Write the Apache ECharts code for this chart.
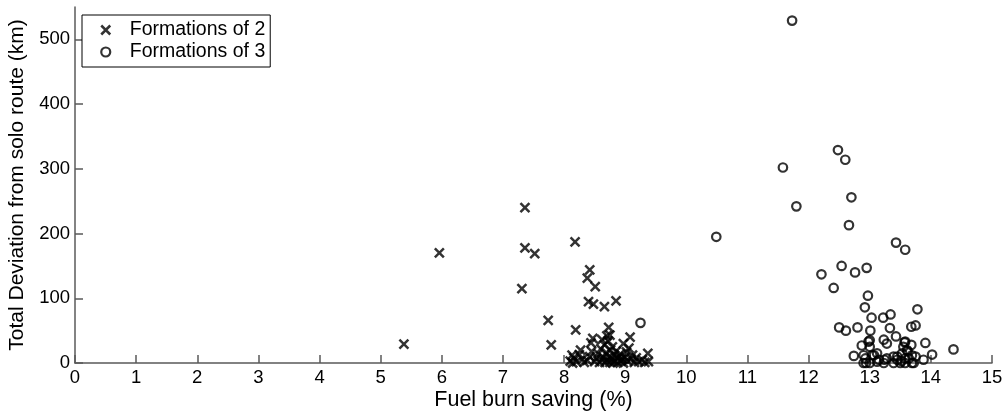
<!DOCTYPE html>
<html>
<head>
<meta charset="utf-8">
<script src="https://cdn.jsdelivr.net/npm/echarts@6/dist/echarts.min.js"></script>
<style>
html,body{margin:0;padding:0;background:#fff;}
#c{width:1003px;height:412px;}
</style>
</head>
<body>
<div id="c"></div>
<script>
var seriesNames = ['Formations of 2', 'Formations of 3'];
var xTicks = [0,1,2,3,4,5,6,7,8,9,10,11,12,13,14,15];
var yTicks = [0,100,200,300,400,500];

var form2Fuel = [5.38,5.96,7.36,7.36,7.52,7.31,7.74,7.79,8.18,8.19,8.42,8.38,8.51,8.40,8.48,8.66,8.85,8.73,8.75,9.08,8.47,9.06,8.27,9.37,8.13,8.14,9.38,8.44,8.97,
  8.10,8.16,8.20,8.25,8.30,8.33,8.38,8.42,8.45,8.50,8.53,8.56,8.58,8.60,8.62,8.64,8.66,8.67,8.69,8.70,8.72,8.73,8.75,8.76,8.78,8.79,8.80,8.82,8.83,8.85,8.87,8.88,8.90,8.92,8.93,8.95,8.97,9.00,9.02,9.04,9.10,9.12,9.15,9.18,9.22,9.28,9.32,8.70,8.62];
var form2Dev = [29,170,240,178,169,115,66,28,187,51,144,131,118,95,91,87,96,55,43,40,38,23,20,15,12,0,2,31,30,
  3,8,2,13,6,1,4,10,18,2,7,14,1,22,5,9,28,1,16,4,34,10,1,20,6,25,0,12,3,18,7,1,10,14,3,6,0,9,17,3,6,12,1,8,2,5,1,42,36];

var form3Fuel = [9.25,10.49,11.73,12.48,12.60,11.58,12.70,11.80,12.66,13.43,13.58,12.54,12.95,12.76,12.21,12.41,12.97,12.92,13.78,13.03,13.22,13.34,12.50,12.61,12.80,13.01,13.33,13.68,13.75,13.43,13.23,13.28,13.00,12.87,13.00,13.57,13.68,13.91,14.37,14.02,13.88,12.74,12.90,12.94,13.12,13.12,13.24,13.45,13.53,13.61,13.69,13.69,13.50,13.39,13.58,13.04,12.93,13.07,13.15,13.28,13.45,13.64,13.75,12.90,13.00,13.23,13.39,13.58,13.72,12.98,13.58,13.55,13.62,13.52];
var form3Dev = [62,195,529,329,314,302,256,242,213,186,175,150,147,140,137,116,104,86,83,70,70,75,55,50,55,50,54,56,58,41,36,30,35,27,25,32,28,31,21,13,5,11,12,0,15,2,5,5,15,20,12,0,0,10,7,12,7,12,5,7,10,7,10,0,0,0,0,0,0,33,33,25,18,3];

function zip(a, b) { return a.map(function (v, i) { return [v, b[i]]; }); }

var crossPath = 'path://M0,0L10,10M0,10L10,0';
var font = '"Liberation Sans", Arial, Helvetica, sans-serif';
var axisCol = '#5a5a5a';

var chart = echarts.init(document.getElementById('c'), null, {renderer: 'canvas'});
chart.setOption({
  animation: false,
  backgroundColor: '#fff',
  grid: {left: 75, right: 11, top: 7, bottom: 49, containLabel: false, outerBoundsMode: 'none'},
  legend: {
    left: 82, top: 15,
    orient: 'vertical',
    padding: [5, 5, 5, 18],
    itemGap: 2,
    itemWidth: 38, itemHeight: 9,
    borderColor: '#000', borderWidth: 1,
    backgroundColor: '#fff',
    textStyle: {fontFamily: font, fontSize: 19.5, color: '#000'},
    data: [
      {name: seriesNames[0], icon: crossPath, itemStyle: {color: 'rgba(0,0,0,0)', borderColor: '#000', borderWidth: 2.5}},
      {name: seriesNames[1], icon: 'circle', itemStyle: {color: 'rgba(0,0,0,0)', borderColor: '#000', borderWidth: 2.2}}
    ]
  },
  xAxis: {
    type: 'value', min: 0, max: 15, interval: 1,
    name: 'Fuel burn saving (%)', nameLocation: 'middle', nameGap: 26, nameMoveOverlap: false,
    nameTextStyle: {fontFamily: font, fontSize: 21.5, color: '#000', verticalAlign: 'top'},
    axisLine: {show: true, lineStyle: {color: axisCol, width: 1.5}},
    axisTick: {show: true, inside: true, length: 8, lineStyle: {color: axisCol, width: 1.5}, customValues: xTicks},
    axisLabel: {fontFamily: font, fontSize: 18.5, color: '#000', margin: 5, customValues: xTicks},
    splitLine: {show: false}
  },
  yAxis: {
    type: 'value', min: 0, max: 550,
    name: 'Total Deviation from solo route (km)', nameLocation: 'middle', nameGap: 47, nameMoveOverlap: false,
    nameTextStyle: {fontFamily: font, fontSize: 21, color: '#000'},
    axisLine: {show: true, lineStyle: {color: axisCol, width: 1.5}},
    axisTick: {show: true, inside: true, length: 8, lineStyle: {color: axisCol, width: 1.5}, customValues: yTicks},
    axisLabel: {fontFamily: font, fontSize: 18.5, color: '#000', margin: 5, customValues: yTicks},
    splitLine: {show: false}
  },
  series: [
    {
      name: seriesNames[0], type: 'scatter',
      symbol: crossPath, symbolSize: 9,
      itemStyle: {color: 'rgba(0,0,0,0)', borderColor: '#000', borderWidth: 2.5},
      data: zip(form2Fuel, form2Dev)
    },
    {
      name: seriesNames[1], type: 'scatter',
      symbol: 'circle', symbolSize: 8.5,
      itemStyle: {color: 'rgba(0,0,0,0)', borderColor: '#000', borderWidth: 2.2},
      data: zip(form3Fuel, form3Dev)
    }
  ]
});
</script>
</body>
</html>
